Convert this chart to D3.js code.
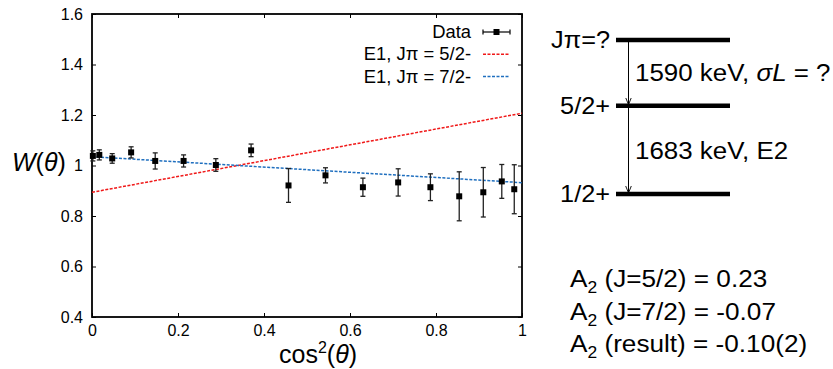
<!DOCTYPE html>
<html>
<head>
<meta charset="utf-8">
<style>
  body { margin: 0; background: #fff; }
  svg text { font-family: "Liberation Sans", Arial, sans-serif; fill: #000; }
  .axis text { font-size: 16px; }
</style>
<script src="https://d3js.org/d3.v7.min.js"></script>
</head>
<body>
<svg width="833" height="369"></svg>
<script>
// measured points, cos^2(theta) vs W(theta)
var cos2 = [0.002, 0.017, 0.047, 0.091, 0.147, 0.213, 0.288, 0.370, 0.457, 0.543, 0.630, 0.712, 0.787, 0.854, 0.910, 0.953, 0.982];
var wVal = [1.038, 1.042, 1.028, 1.052, 1.018, 1.018, 1.002, 1.060, 0.921, 0.961, 0.914, 0.933, 0.914, 0.878, 0.894, 0.937, 0.906];
var wErr = [0.020, 0.020, 0.019, 0.022, 0.032, 0.024, 0.025, 0.025, 0.067, 0.030, 0.036, 0.054, 0.053, 0.097, 0.098, 0.067, 0.097];

// E1 curves (endpoints at cos^2 = 0 and 1)
var fitX = [0, 1];
var fit52 = [0.894, 1.207];
var fit72 = [1.035, 0.932];

var xTicks = [0, 0.2, 0.4, 0.6, 0.8, 1];
var yTicks = [0.4, 0.6, 0.8, 1.0, 1.2, 1.4, 1.6];

var legendNames = ["Data", "E1, J\u03c0 = 5/2-", "E1, J\u03c0 = 7/2-"];
var levelNames = ["J\u03c0=?", "5/2+", "1/2+"];
var transNames = ["1590 keV, ", "1683 keV, E2"];
var a2Lines = [["(J=5/2) = 0.23"], ["(J=7/2) = -0.07"], ["(result) = -0.10(2)"]];

var svg = d3.select("svg");
var margin = {top: 14, right: 311, bottom: 52, left: 92},
    width = +svg.attr("width") - margin.left - margin.right,
    height = +svg.attr("height") - margin.top - margin.bottom,
    g = svg.append("g").attr("transform", "translate(" + margin.left + "," + margin.top + ")");

var x = d3.scaleLinear().domain([0, 1]).range([0, width]),
    y = d3.scaleLinear().domain([0.4, 1.6]).range([height, 0]);

var fmt = function(d) { return d === 0 || d === 1 ? String(d) : d3.format(".1f")(d); };

// text that is a bit wider than the font, like the original picture
var wideText = function(parent, tx, ty, sx) {
  return parent.append("g").attr("transform", "translate(" + tx + "," + ty + ") scale(" + sx + ",1)")
    .append("text");
};

// axes with inward ticks on all four sides
g.append("g").attr("class", "axis")
  .attr("transform", "translate(0," + height + ")")
  .call(d3.axisBottom(x).tickValues(xTicks).tickFormat(fmt).tickSizeInner(-4).tickSizeOuter(0).tickPadding(8));
g.append("g").attr("class", "axis")
  .call(d3.axisLeft(y).tickValues(yTicks).tickFormat(fmt).tickSizeInner(-4).tickSizeOuter(0).tickPadding(9));
g.append("g").attr("class", "axis")
  .call(d3.axisTop(x).tickValues(xTicks).tickFormat("").tickSizeInner(-4).tickSizeOuter(0));
g.append("g").attr("class", "axis")
  .attr("transform", "translate(" + width + ",0)")
  .call(d3.axisRight(y).tickValues(yTicks).tickFormat("").tickSizeInner(-4).tickSizeOuter(0));
g.selectAll(".axis .domain").remove();
g.selectAll(".axis line").attr("stroke", "#000").attr("stroke-width", 1);
g.selectAll(".axis text").attr("font-family", null).attr("font-size", null);

g.append("rect")
  .attr("width", width).attr("height", height)
  .attr("fill", "none").attr("stroke", "#000").attr("stroke-width", 1.8);

// fit lines
var line = d3.line().x(function(d) { return x(d[0]); }).y(function(d) { return y(d[1]); });
g.append("path").datum(d3.zip(fitX, fit52)).attr("d", line)
  .attr("fill", "none").attr("stroke", "#f01818").attr("stroke-width", 1.5).attr("stroke-dasharray", "3,1.5");
g.append("path").datum(d3.zip(fitX, fit72)).attr("d", line)
  .attr("fill", "none").attr("stroke", "#1f6fbf").attr("stroke-width", 1.5).attr("stroke-dasharray", "3,1.5");

// data with error bars
var pts = d3.range(cos2.length).map(function(i) { return {x: cos2[i], w: wVal[i], e: wErr[i]}; });
var pg = g.selectAll(".pt").data(pts).enter().append("g").attr("class", "pt");
pg.append("line")
  .attr("x1", function(d) { return x(d.x); }).attr("x2", function(d) { return x(d.x); })
  .attr("y1", function(d) { return y(d.w - d.e); }).attr("y2", function(d) { return y(d.w + d.e); })
  .attr("stroke", "#222").attr("stroke-width", 1.3);
[-1, 1].forEach(function(s) {
  pg.append("line")
    .attr("x1", function(d) { return x(d.x) - 2.5; }).attr("x2", function(d) { return x(d.x) + 2.5; })
    .attr("y1", function(d) { return y(d.w + s * d.e); }).attr("y2", function(d) { return y(d.w + s * d.e); })
    .attr("stroke", "#222").attr("stroke-width", 1.3);
});
pg.append("rect")
  .attr("x", function(d) { return x(d.x) - 3; }).attr("y", function(d) { return y(d.w) - 3; })
  .attr("width", 6).attr("height", 6).attr("fill", "#000");

// legend
var leg = svg.append("g").attr("transform", "translate(471,32)");
legendNames.forEach(function(name, i) {
  var row = leg.append("g").attr("transform", "translate(0," + (i * 22.3) + ")");
  wideText(row, 0, 6, 1.05).attr("text-anchor", "end")
    .attr("font-size", "17.5px").text(name);
  if (i === 0) {
    row.append("line").attr("x1", 12).attr("x2", 39).attr("stroke", "#000").attr("stroke-width", 1.2);
    [12, 39].forEach(function(cx) {
      row.append("line").attr("x1", cx).attr("x2", cx).attr("y1", -2.5).attr("y2", 2.5)
        .attr("stroke", "#000").attr("stroke-width", 1.2);
    });
    row.append("rect").attr("x", 22.5).attr("y", -3).attr("width", 6).attr("height", 6).attr("fill", "#000");
  } else {
    row.append("line").attr("x1", 12).attr("x2", 39)
      .attr("stroke", i === 1 ? "#f01818" : "#1f6fbf").attr("stroke-width", 1.5)
      .attr("stroke-dasharray", "3,1.5");
  }
});

// axis titles
svg.append("text").attr("x", 12).attr("y", 171).attr("font-size", "25px")
  .html('<tspan font-style="italic">W</tspan>(<tspan font-style="italic">\u03b8</tspan>)');
svg.append("text").attr("x", 318).attr("y", 363).attr("text-anchor", "middle").attr("font-size", "25px")
  .html('cos<tspan font-size="16px" dy="-10">2</tspan><tspan dy="10">(</tspan><tspan font-style="italic">\u03b8</tspan>)');

// level scheme
var lev = d3.scaleLinear().domain([0, 2]).range([40, 194]);
var levelY = [lev(0), 105.7, lev(2)];
var scheme = svg.append("g");
levelNames.forEach(function(name, i) {
  scheme.append("line").attr("x1", 616).attr("x2", 730).attr("y1", levelY[i]).attr("y2", levelY[i])
    .attr("stroke", "#000").attr("stroke-width", 4.6);
  wideText(scheme, 610, levelY[i] + 8, 1.1).attr("text-anchor", "end")
    .attr("font-size", "23px").text(name);
});
svg.append("defs").append("marker").attr("id", "arr")
  .attr("viewBox", "0 0 10 10").attr("refX", 10).attr("refY", 5)
  .attr("markerWidth", 7).attr("markerHeight", 7).attr("orient", "auto")
  .append("path").attr("d", "M0,1 L10,5 L0,9").attr("fill", "none").attr("stroke", "#000").attr("stroke-width", 1.3);
[0, 1].forEach(function(i) {
  scheme.append("line").attr("x1", 628.5).attr("x2", 628.5)
    .attr("y1", levelY[i] + 2).attr("y2", levelY[i + 1] - 1)
    .attr("stroke", "#000").attr("stroke-width", 1).attr("marker-end", "url(#arr)");
});
wideText(scheme, 635, 81, 1.08).attr("font-size", "24px")
  .html(transNames[0] + '<tspan font-style="italic">\u03c3L</tspan> = ?');
wideText(scheme, 635, 159, 1.08).attr("font-size", "24px").text(transNames[1]);

// A2 coefficients
a2Lines.forEach(function(t, i) {
  wideText(svg, 570, 287.3 + i * 32.2, 1.09).attr("font-size", "24px")
    .html('A<tspan font-size="16px" dy="6">2</tspan><tspan dy="-6"> ' + t[0] + '</tspan>');
});
</script>
</body>
</html>
